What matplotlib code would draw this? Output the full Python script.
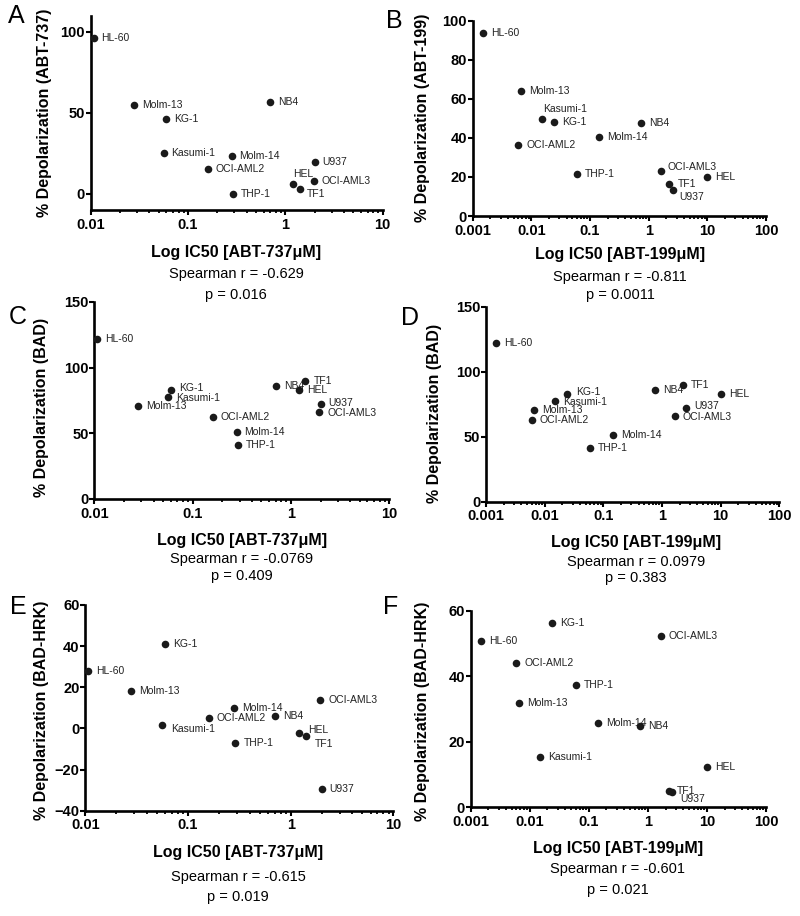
import matplotlib
matplotlib.use("Agg")
import matplotlib.pyplot as plt
from matplotlib.ticker import FixedLocator, FixedFormatter, LogLocator, NullFormatter

plt.rcParams["font.family"] = ["Liberation Sans", "DejaVu Sans"]

cells = ["HL-60", "Molm-13", "KG-1", "Kasumi-1", "OCI-AML2", "Molm-14",
         "THP-1", "NB4", "HEL", "TF1", "U937", "OCI-AML3"]

# IC50 (uM)
ic50_737 = [0.0107, 0.028, 0.06, 0.056, 0.16, 0.28, 0.29, 0.70, 1.2, 1.4, 2.0, 1.95]
ic50_199 = [0.0015, 0.0066, 0.024, 0.015, 0.006, 0.145, 0.06, 0.75, 10.0, 2.25, 2.55, 1.65]

# % depolarization
dep_737 = [96, 55, 46, 25, 15.5, 23.5, 0, 57, 6, 3, 20, 8]
dep_199 = [93.5, 64, 48.3, 49.5, 36.5, 40.6, 21.5, 47.8, 20, 16.4, 13.3, 23.2]
dep_bad = [122, 70.5, 83, 77.5, 62.8, 51, 41, 86, 83, 90, 72, 66]
dep_badhrk_737 = [28, 18.2, 41, 1.6, 4.9, 9.8, -7, 6, -2.1, -3.7, -29.3, 13.8]
dep_badhrk_199 = [50.9, 31.8, 56.3, 15.5, 44.1, 25.7, 37.5, 24.9, 12.2, 5, 4.6, 52.3]

stats = {
    "A": ("Spearman r = -0.629", "p = 0.016"),
    "B": ("Spearman r = -0.811", "p = 0.0011"),
    "C": ("Spearman r = -0.0769", "p = 0.409"),
    "D": ("Spearman r = 0.0979", "p = 0.383"),
    "E": ("Spearman r = -0.615", "p = 0.019"),
    "F": ("Spearman r = -0.601", "p = 0.021"),
}

W, H = 800, 916
fig = plt.figure(figsize=(W / 100, H / 100), dpi=100)


def fx(x):
    return x / W


def fy(y):
    return 1 - y / H


# panel layout in pixels: axes box (l, r, t, b), letter pos, ylabel pos,
# x centre + y of xlabel / spearman / p, label offsets (px, up = +)
panels = [
    dict(key="A", box=(90.7, 382.7, 15.8, 210.2), x=ic50_737, y=dep_737,
         ylim=(-10, 110), yticks=[0, 50, 100], ylabel="% Depolarization (ABT-737)",
         drug="ABT-737", letter=(16, 16), ylab=(45, 113), xl=(236, 252, 274, 295),
         off={"HEL": (0, 10), "TF1": (7, -5)}),
    dict(key="B", box=(472.7, 766, 20.7, 216), x=ic50_199, y=dep_199,
         ylim=(0, 100), yticks=[0, 20, 40, 60, 80, 100], ylabel="% Depolarization (ABT-199)",
         drug="ABT-199", letter=(394, 21), ylab=(422.5, 118), xl=(620, 255, 277, 295),
         off={"Kasumi-1": (1, 10), "U937": (7, -7), "OCI-AML3": (6, 4)}),
    dict(key="C", box=(94.3, 389.3, 302, 499), x=ic50_737, y=dep_bad,
         ylim=(0, 150), yticks=[0, 50, 100, 150], ylabel="% Depolarization (BAD)",
         drug="ABT-737", letter=(18, 317), ylab=(42, 407), xl=(242, 540, 559, 576),
         off={"KG-1": (8, 1.5), "Kasumi-1": (8, -1), "U937": (8, 1.5), "OCI-AML3": (8, -1)}),
    dict(key="D", box=(486, 779.3, 306.7, 501.5), x=ic50_199, y=dep_bad,
         ylim=(0, 150), yticks=[0, 50, 100, 150], ylabel="% Depolarization (BAD)",
         drug="ABT-199", letter=(410, 318), ylab=(435, 413), xl=(636, 543, 562, 578),
         off={"KG-1": (9, 1.5), "Kasumi-1": (8, -1), "U937": (8, 1.5), "OCI-AML3": (8, -1)}),
    dict(key="E", box=(85.3, 393.3, 605, 810.7), x=ic50_737, y=dep_badhrk_737,
         ylim=(-40, 60), yticks=[-40, -20, 0, 20, 40, 60], ylabel="% Depolarization (BAD-HRK)",
         drug="ABT-737", letter=(18, 607), ylab=(42, 710), xl=(238, 853, 877, 897),
         off={"Kasumi-1": (9, -4), "HEL": (9, 3), "TF1": (9, -8)}),
    dict(key="F", box=(470.5, 766, 611, 807.3), x=ic50_199, y=dep_badhrk_199,
         ylim=(0, 60), yticks=[0, 20, 40, 60], ylabel="% Depolarization (BAD-HRK)",
         drug="ABT-199", letter=(391, 607), ylab=(422, 711), xl=(618, 848, 869, 890),
         off={"U937": (8, -7)}),
]

for p in panels:
    l, r, t, b = p["box"]
    ax = fig.add_axes([fx(l), fy(b), (r - l) / W, (b - t) / H])
    ax.set_xscale("log")
    if p["drug"] == "ABT-737":
        ax.set_xlim(0.01, 10)
        majors = [0.01, 0.1, 1, 10]
        labels = ["0.01", "0.1", "1", "10"]
    else:
        ax.set_xlim(0.001, 100)
        majors = [0.001, 0.01, 0.1, 1, 10, 100]
        labels = ["0.001", "0.01", "0.1", "1", "10", "100"]
    ax.xaxis.set_major_locator(FixedLocator(majors))
    ax.xaxis.set_major_formatter(FixedFormatter(labels))
    ax.xaxis.set_minor_locator(LogLocator(base=10, subs=range(2, 10), numticks=20))
    ax.xaxis.set_minor_formatter(NullFormatter())
    ax.set_ylim(*p["ylim"])
    ax.set_yticks(p["yticks"])

    for s in ["top", "right"]:
        ax.spines[s].set_visible(False)
    for s in ["left", "bottom"]:
        ax.spines[s].set_linewidth(1.9)
    ax.tick_params(which="major", direction="out", length=3.6, width=1.5,
                   labelsize=10.5, pad=2)
    ax.tick_params(which="minor", direction="out", length=2.2, width=1.3)
    ax.tick_params(axis="y", pad=0.5)
    for lab in ax.get_xticklabels() + ax.get_yticklabels():
        lab.set_fontweight("bold")

    ax.scatter(p["x"], p["y"], s=30, color="#1a1a1a", zorder=3, clip_on=False,
               linewidths=0)
    for name, xv, yv in zip(cells, p["x"], p["y"]):
        dx, dy = p["off"].get(name, (8, 0))
        ax.annotate(name, (xv, yv), xytext=(dx * 0.72, dy * 0.72),
                    textcoords="offset points", ha="left", va="center",
                    fontsize=7.5, color="#222222", zorder=2)

    lx, ly = p["letter"]
    fig.text(fx(lx), fy(ly), p["key"], fontsize=18, ha="center", va="center")
    yx, yy = p["ylab"]
    fig.text(fx(yx), fy(yy), p["ylabel"], rotation=90, fontsize=11.5,
             fontweight="bold", ha="center", va="center")
    cx, xly, sy, py = p["xl"]
    fig.text(fx(cx), fy(xly), "Log IC50 [%s\u03bcM]" % p["drug"], fontsize=11.5,
             fontweight="bold", ha="center", va="center")
    fig.text(fx(cx), fy(sy), stats[p["key"]][0], fontsize=10.5, ha="center", va="center")
    fig.text(fx(cx), fy(py), stats[p["key"]][1], fontsize=10.5, ha="center", va="center")

fig.savefig("out.png", dpi=100)
